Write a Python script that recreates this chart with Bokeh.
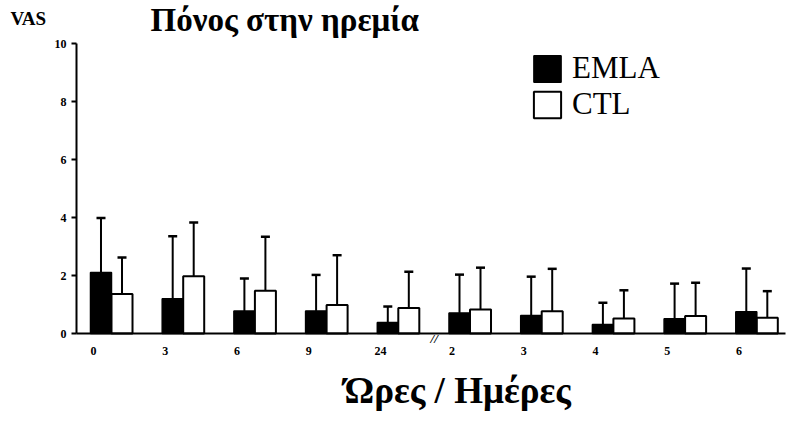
from bokeh.plotting import figure
from bokeh.models import (Range1d, FixedTicker, Whisker, TeeHead, ColumnDataSource,
                          Label, Legend, LegendItem)
from bokeh.embed import file_html
from bokeh.resources import INLINE

# ---- data ----
tick_labels = ["0", "3", "6", "9", "24", "2", "3", "4", "5", "6"]
emla = [2.10, 1.20, 0.78, 0.78, 0.38, 0.71, 0.62, 0.31, 0.51, 0.75]
emla_sd = [1.88, 2.15, 1.12, 1.24, 0.55, 1.32, 1.34, 0.75, 1.21, 1.49]
ctl = [1.36, 1.97, 1.47, 0.98, 0.88, 0.83, 0.77, 0.52, 0.60, 0.54]
ctl_sd = [1.26, 1.86, 1.87, 1.72, 1.25, 1.44, 1.46, 0.97, 1.15, 0.92]
y_ticks = [0, 2, 4, 6, 8, 10]

SERIF = "Liberation Serif"
BW = 0.293
idx = list(range(len(tick_labels)))

src_e = ColumnDataSource(dict(
    x=[i - BW / 2 for i in idx], top=emla,
    up=[m + s for m, s in zip(emla, emla_sd)]))
src_c = ColumnDataSource(dict(
    x=[i + BW / 2 for i in idx], top=ctl,
    up=[m + s for m, s in zip(ctl, ctl_sd)]))

W, H = 788, 421
PX_X, PX_Y = 71.7, 29.0      # pixels per data unit
X0, Y0 = 111, 333            # canvas position of data (0, 0)

p = figure(width=W, height=H, output_backend="svg", toolbar_location=None,
           x_range=Range1d(-X0 / PX_X, (W - X0) / PX_X),
           y_range=Range1d(-(H - Y0) / PX_Y, Y0 / PX_Y),
           min_border=0, min_border_left=0, min_border_right=0,
           min_border_top=0, min_border_bottom=0)
p.outline_line_color = None
p.xgrid.visible = False
p.ygrid.visible = False

# error bars (upper only)
for src in (src_e, src_c):
    p.add_layout(Whisker(source=src, base="x", lower="top", upper="up",
                         line_color="black", line_width=2,
                         upper_head=TeeHead(size=9, line_width=2.5, line_color="black"),
                         lower_head=None))

r_e = p.vbar(x="x", top="top", width=BW, source=src_e, fill_color="black",
             line_color="black", line_width=1.5)
r_c = p.vbar(x="x", top="top", width=BW, source=src_c, fill_color="white",
             line_color="black", line_width=2)

x_left = (76 - X0) / PX_X
# y axis
p.yaxis.fixed_location = x_left
p.yaxis.bounds = (0, 10)
p.yaxis.ticker = FixedTicker(ticks=y_ticks)
p.yaxis.axis_line_width = 2
p.yaxis.major_tick_line_width = 2
p.yaxis.major_tick_out = 5
p.yaxis.major_tick_in = 0
p.yaxis.minor_tick_line_color = None
p.yaxis.major_label_standoff = 5
p.yaxis.major_label_text_font = SERIF
p.yaxis.major_label_text_font_style = "bold"
p.yaxis.major_label_text_font_size = "12px"
p.yaxis.major_label_text_color = "black"

# x axis
xt = [i - 0.25 for i in idx]
p.xaxis.fixed_location = 0
p.xaxis.bounds = (x_left, 9.4)
p.xaxis.ticker = FixedTicker(ticks=xt)
p.xaxis.major_label_overrides = {t: lab for t, lab in zip(xt, tick_labels)}
p.xaxis.axis_line_width = 2
p.xaxis.major_tick_line_color = None
p.xaxis.minor_tick_line_color = None
p.xaxis.major_tick_out = 0
p.xaxis.major_tick_in = 0
p.xaxis.major_label_standoff = 13
p.xaxis.major_label_text_font = SERIF
p.xaxis.major_label_text_font_style = "bold"
p.xaxis.major_label_text_font_size = "12px"
p.xaxis.major_label_text_color = "black"

# axis break mark between the hours and the days
p.add_layout(Label(x=4.5, y=-0.17, text="//", text_font=SERIF,
                   text_font_style="bold italic", text_font_size="13px",
                   text_align="center", text_baseline="middle",
                   text_color="black"))

# texts (screen units: from the bottom-left corner of the canvas)
p.add_layout(Label(x=10, y=H - 28, x_units="screen", y_units="screen", text="VAS",
                   text_font=SERIF, text_font_style="bold", text_font_size="19px",
                   text_color="black"))
p.add_layout(Label(x=150, y=H - 37, x_units="screen", y_units="screen",
                   text="Πόνος στην ηρεμία", text_font=SERIF,
                   text_font_style="bold", text_font_size="33px",
                   text_color="black"))
p.add_layout(Label(x=344, y=H - 410, x_units="screen", y_units="screen",
                   text="Ώρες / Ημέρες", text_font=SERIF,
                   text_font_style="bold", text_font_size="37px",
                   text_color="black"))

legend = Legend(items=[LegendItem(label="EMLA", renderers=[r_e]),
                       LegendItem(label="CTL", renderers=[r_c])],
                location=(530, H - 122), padding=0, margin=0, spacing=0,
                glyph_width=34, glyph_height=33, label_height=33,
                label_standoff=8, label_text_font=SERIF,
                label_text_font_size="31px", label_text_color="black",
                border_line_color=None, background_fill_alpha=0)
p.add_layout(legend)

open("out.html", "w").write(file_html(p, INLINE))
